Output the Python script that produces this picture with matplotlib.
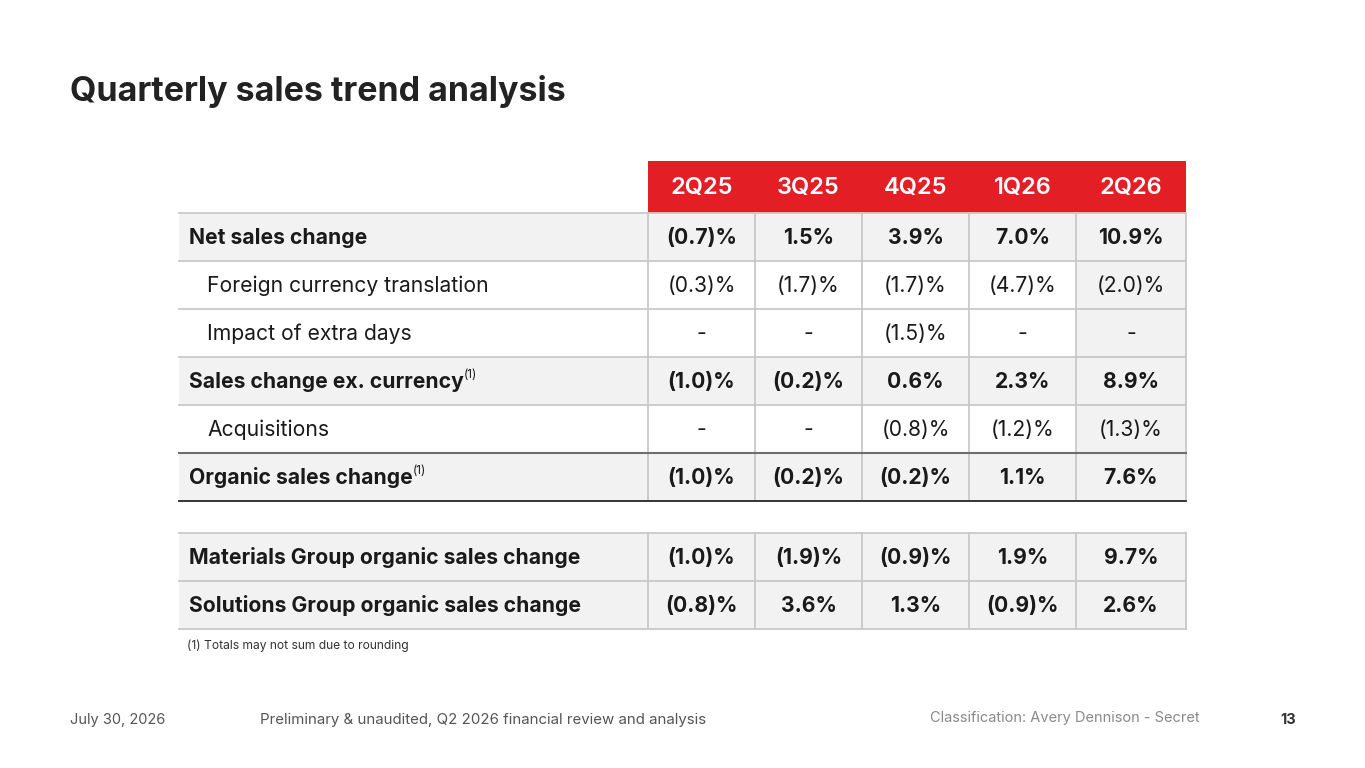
import matplotlib.pyplot as plt
from matplotlib.patches import Rectangle

plt.rcParams["font.family"] = ["Inter", "DejaVu Sans"]

# table content
quarters = ["2Q25", "3Q25", "4Q25", "1Q26", "2Q26"]
row_labels = [
    "Net sales change",
    "Foreign currency translation",
    "Impact of extra days",
    "Sales change ex. currency",
    "Acquisitions",
    "Organic sales change",
    "Materials Group organic sales change",
    "Solutions Group organic sales change",
]
row_bold = [True, False, False, True, False, True, True, True]
row_note = [False, False, False, True, False, True, False, False]
net_sales = ["(0.7)%", "1.5%", "3.9%", "7.0%", "10.9%"]
fx_translation = ["(0.3)%", "(1.7)%", "(1.7)%", "(4.7)%", "(2.0)%"]
extra_days = ["-", "-", "(1.5)%", "-", "-"]
ex_currency = ["(1.0)%", "(0.2)%", "0.6%", "2.3%", "8.9%"]
acquisitions = ["-", "-", "(0.8)%", "(1.2)%", "(1.3)%"]
organic = ["(1.0)%", "(0.2)%", "(0.2)%", "1.1%", "7.6%"]
materials = ["(1.0)%", "(1.9)%", "(0.9)%", "1.9%", "9.7%"]
solutions = ["(0.8)%", "3.6%", "1.3%", "(0.9)%", "2.6%"]
values = [net_sales, fx_translation, extra_days, ex_currency,
          acquisitions, organic, materials, solutions]

RED = "#E31E25"
GRAY = "#F2F2F2"
LINE = "#C9C9C9"
TXT = "#1A1A1A"

fig = plt.figure(figsize=(13.65, 7.68), dpi=100)
ax = fig.add_axes([0, 0, 1, 1])
ax.set_xlim(0, 1365)
ax.set_ylim(768, 0)
ax.axis("off")

# geometry (pixels)
label_x0 = 179
col_edges = [648, 755, 862, 969, 1076, 1186]
head_top, head_h = 161, 52
row_h = 48
row_tops = [213 + i * row_h for i in range(6)] + [533, 581]

# header
for j, q in enumerate(quarters):
    x0, x1 = col_edges[j], col_edges[j + 1]
    ax.add_patch(Rectangle((x0, head_top), x1 - x0, head_h, fc=RED, ec="none"))
    ax.text((x0 + x1) / 2, head_top + head_h / 2 + 1, q, color="white",
            fontsize=17, fontweight="semibold", ha="center", va="center")

# body
for i, label in enumerate(row_labels):
    top = row_tops[i]
    bold = row_bold[i]
    bg = GRAY if bold else "white"
    ax.add_patch(Rectangle((label_x0, top), col_edges[0] - label_x0, row_h,
                           fc=bg, ec="none"))
    for j in range(5):
        x0, x1 = col_edges[j], col_edges[j + 1]
        cbg = GRAY if (bold or j == 4) else "white"
        ax.add_patch(Rectangle((x0, top), x1 - x0, row_h, fc=cbg, ec="none"))
        ax.text((x0 + x1) / 2, top + row_h / 2 + 1, values[i][j], color=TXT,
                fontsize=15.2, fontweight="bold" if bold else "normal",
                ha="center", va="center")
    lx = label_x0 + 10 if bold else label_x0 + 28
    t = ax.text(lx, top + row_h / 2 + 1, label, color=TXT, fontsize=15.2,
                fontweight="bold" if bold else "normal", ha="left", va="center")
    if row_note[i]:
        fig.canvas.draw()
        bb = t.get_window_extent()
        ax.text(bb.x1, top + 18, "(1)", color=TXT, fontsize=8.5,
                ha="left", va="center")

# grid lines
for block in (range(0, 6), range(6, 8)):
    idx = list(block)
    top = row_tops[idx[0]]
    bottom = row_tops[idx[-1]] + row_h
    for i in idx:
        ax.plot([label_x0, col_edges[-1]], [row_tops[i], row_tops[i]],
                color=LINE, lw=1.3, zorder=3)
    ax.plot([label_x0, col_edges[-1]], [bottom, bottom], color=LINE, lw=1.3, zorder=3)
    for x in col_edges:
        ax.plot([x, x], [top, bottom], color=LINE, lw=1.3, zorder=3)

# darker rules around organic sales change
ax.plot([label_x0, col_edges[-1]], [row_tops[5], row_tops[5]], color="#6E6E6E", lw=1.5, zorder=4)
ax.plot([label_x0, col_edges[-1]], [row_tops[5] + row_h, row_tops[5] + row_h],
        color="#2A2A2A", lw=1.3, zorder=4)

# title and notes
ax.text(70, 92, "Quarterly sales trend analysis", color="#222222", fontsize=24.5,
        fontweight="bold", ha="left", va="center")
ax.text(187, 646, "(1) Totals may not sum due to rounding", color="#333333",
        fontsize=8.7, ha="left", va="center")

# footer
ax.text(70, 720, "July 30, 2026", color="#555555", fontsize=10.5, ha="left", va="center")
ax.text(260, 720, "Preliminary & unaudited, Q2 2026 financial review and analysis",
        color="#555555", fontsize=10.8, ha="left", va="center")
ax.text(1200, 718, "Classification: Avery Dennison - Secret", color="#8A8A8A",
        fontsize=10.5, ha="right", va="center")
ax.text(1296, 720, "13", color="#333333", fontsize=10.5, fontweight="bold",
        ha="right", va="center")

fig.savefig("out.png", dpi=100)
